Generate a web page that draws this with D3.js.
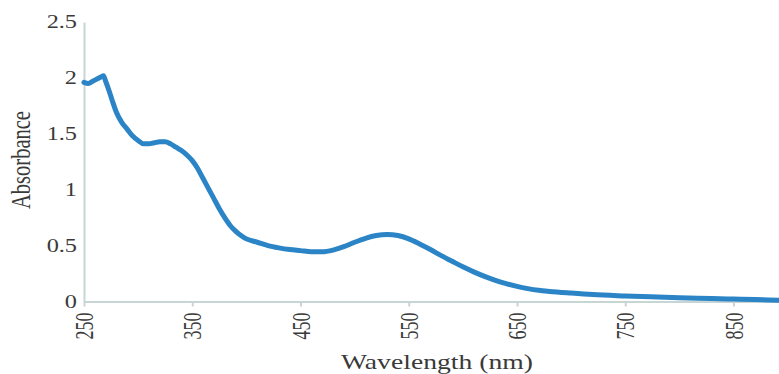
<!DOCTYPE html>
<html>
<head>
<meta charset="utf-8">
<script src="https://cdn.jsdelivr.net/npm/d3@7"></script>
<style>
  html, body { margin: 0; padding: 0; background: #fff; }
  svg text { font-family: "Liberation Serif", "Times New Roman", serif; fill: #3a3a3a; }
  .axis path, .axis line { stroke: #c8d5d5; stroke-width: 2; }
</style>
</head>
<body>
<div id="graph"></div>
<script>
// absorbance spectrum
var wavelengths = [250, 254, 258, 262, 266, 268, 270, 273, 276, 280, 285, 290, 295, 300, 305, 310, 315, 320, 325, 330,
  335, 340, 345, 350, 355, 360, 365, 370, 375, 380, 385, 390, 395, 400, 410, 420, 430, 440, 450, 460,
  470, 480, 490, 500, 510, 520, 530, 540, 550, 560, 570, 580, 590, 600, 610, 620, 630, 640, 650, 660,
  670, 680, 700, 720, 750, 780, 800, 830, 850, 870, 892];
var absorbance = [1.96, 1.95, 1.97, 1.99, 2.01, 2.02, 1.97, 1.89, 1.80, 1.69, 1.60, 1.54, 1.48, 1.44, 1.41, 1.41, 1.42, 1.43, 1.43, 1.41,
  1.38, 1.35, 1.31, 1.26, 1.19, 1.10, 1.01, 0.92, 0.83, 0.75, 0.68, 0.63, 0.59, 0.56, 0.53, 0.50, 0.48, 0.465, 0.455, 0.445,
  0.445, 0.46, 0.49, 0.53, 0.565, 0.59, 0.60, 0.59, 0.56, 0.515, 0.465, 0.41, 0.36, 0.31, 0.265, 0.225, 0.19, 0.16, 0.135, 0.115,
  0.10, 0.09, 0.075, 0.062, 0.05, 0.04, 0.034, 0.027, 0.022, 0.017, 0.012];
var xTicks = [250, 350, 450, 550, 650, 750, 850];
var yTicks = [0, 0.5, 1, 1.5, 2, 2.5];

var W = 779, H = 374;
var stretch = 1.35; // text in the picture is widened horizontally

var svg = d3.select('#graph').append('svg')
  .attr('width', W)
  .attr('height', H);

var x = d3.scaleLinear().domain([250, 892]).range([84, 779]);
var y = d3.scaleLinear().domain([0, 2.5]).range([301.5, 22]);

// x axis
var gx = svg.append('g')
  .attr('class', 'axis')
  .attr('transform', 'translate(0,' + y(0) + ')')
  .call(d3.axisBottom(x).tickValues(xTicks).tickSize(5).tickSizeOuter(0).tickFormat(d3.format('d')));
gx.selectAll('text').remove();
gx.selectAll('.tick').append('text')
  .attr('transform', 'translate(0,11) scale(' + stretch + ',1) rotate(-90)')
  .attr('text-anchor', 'end')
  .attr('dy', '0.35em')
  .style('font-size', '18px')
  .text(function(d) { return d; });

// y axis, no tick marks
var gy = svg.append('g')
  .attr('class', 'axis')
  .attr('transform', 'translate(' + x(250) + ',0)')
  .call(d3.axisLeft(y).tickValues(yTicks).tickSize(0).tickSizeOuter(0));
gy.selectAll('text').remove();
gy.selectAll('.tick').append('text')
  .attr('transform', 'translate(-7,0) scale(' + stretch + ',1)')
  .attr('text-anchor', 'end')
  .attr('dy', '0.32em')
  .style('font-size', '18px')
  .text(function(d) { return d; });

// spectrum line
var data = wavelengths.map(function(w, i) { return { w: w, a: absorbance[i] }; });
var line = d3.line()
  .x(function(d) { return x(d.w); })
  .y(function(d) { return y(d.a); })
  .curve(d3.curveMonotoneX);

svg.append('path')
  .datum(data)
  .attr('fill', 'none')
  .attr('stroke', '#2a84c6')
  .attr('stroke-width', 5)
  .attr('stroke-linejoin', 'round')
  .attr('stroke-linecap', 'round')
  .attr('d', line);

// axis titles
svg.append('text')
  .attr('transform', 'translate(437,369) scale(' + stretch + ',1)')
  .attr('text-anchor', 'middle')
  .style('font-size', '20.5px')
  .text('Wavelength (nm)');

svg.append('text')
  .attr('transform', 'translate(30,160) scale(' + stretch + ',1) rotate(-90)')
  .attr('text-anchor', 'middle')
  .style('font-size', '20.5px')
  .text('Absorbance');
</script>
</body>
</html>
